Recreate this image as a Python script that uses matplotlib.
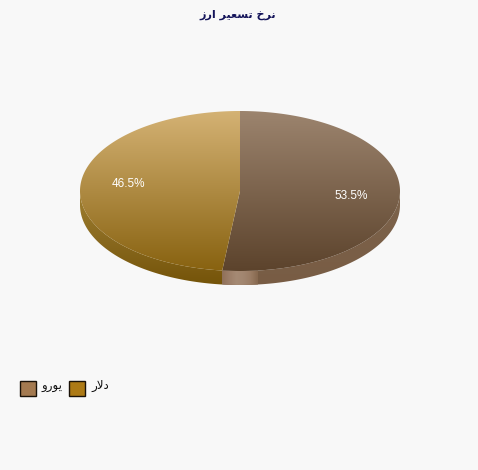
import matplotlib
matplotlib.use("Agg")
import matplotlib.pyplot as plt
import numpy as np
from matplotlib.colors import LinearSegmentedColormap
from matplotlib.patches import Polygon, Rectangle

# dados
valores = [53.5, 46.5]
rotulos = ["53.5%", "46.5%"]
# Arabic text in presentation forms, visual order (matplotlib has no shaping)
titulo = "\uFEAF\uFEAD\uFE8D \uFEAE\uFEF4\uFECC\uFEB4\uFE97 \uFEA5\uFEAE\uFEE7"
nomes_legenda = ["\uFEED\uFEAD\uFEEE\uFEF3", "\uFEAD\uFEFB\uFEA9"]

W, H = 478, 470
cx, cy, rx, ry, prof = 240, 191, 160, 80, 14

fig = plt.figure(figsize=(W / 100, H / 100), dpi=100, facecolor="#f8f8f8")
ax = fig.add_axes([0, 0, 1, 1])
ax.axis("off")


def elipse(t, dy=0):
    return np.column_stack([cx + rx * np.sin(t), cy - ry * np.cos(t) + dy])


def gradiente(cores, box, clip, horizontal=False):
    cmap = LinearSegmentedColormap.from_list("g", cores)
    g = np.linspace(0, 1, 256)
    g = g.reshape(1, -1) if horizontal else g.reshape(-1, 1)
    im = ax.imshow(g, extent=[box[0], box[1], box[3], box[2]], cmap=cmap,
                   aspect="auto", zorder=clip.get_zorder(), interpolation="bilinear")
    im.set_clip_path(clip)


def forma(pontos, z):
    p = Polygon(pontos, closed=True, fc="none", ec="none", zorder=z)
    ax.add_patch(p)
    return p


# angulo do corte, medido na tela a partir das 12 horas
fim = np.radians(valores[0] / sum(valores) * 360)
t_corte = np.pi + np.arctan(np.tan(fim - np.pi) * ry / rx)

# lateral
t_ouro = np.linspace(t_corte, 1.5 * np.pi, 100)
lado_ouro = forma(np.vstack([elipse(t_ouro), elipse(t_ouro, prof)[::-1]]), 2)
gradiente(["#a08030", "#8a6a20", "#745308"], (80, 224, 190, 286), lado_ouro)

t_marrom = np.linspace(0.5 * np.pi, t_corte, 100)
lado_marrom = forma(np.vstack([elipse(t_marrom), elipse(t_marrom, prof)[::-1]]), 2)
gradiente(["#7d644c", "#785c44"], (222, 400, 190, 286), lado_marrom)

# faixa clara do corte
xc = elipse(np.array([t_corte]))[0, 0]
t_faixa = np.linspace(np.pi - np.arcsin(18 / rx), t_corte, 30)
faixa = forma(np.vstack([elipse(t_faixa), elipse(t_faixa, prof)[::-1]]), 3)
gradiente(["#8f7058", "#9c7e68", "#a58a74", "#a28670", "#9a7c64", "#86684e"],
          (xc, 258, 268, 286), faixa, horizontal=True)

# topo das fatias
t1 = np.linspace(0, t_corte, 200)
marrom = forma(np.vstack([[cx, cy], elipse(t1)]), 4)
gradiente(["#9c846e", "#5c432c"], (cx - rx, cx + rx, cy - ry, cy + ry), marrom)

t2 = np.linspace(t_corte, 2 * np.pi, 200)
ouro = forma(np.vstack([[cx, cy], elipse(t2)]), 4)
gradiente(["#d4b274", "#886210"], (cx - rx, cx + rx, cy - ry, cy + ry), ouro)

ax.set_xlim(0, W)
ax.set_ylim(H, 0)

# textos
ax.text(238, 15, titulo, ha="center", va="center", fontsize=8, fontweight="bold",
        color="#14145a", family="DejaVu Sans", zorder=6)
ax.text(351, 196, rotulos[0], ha="center", va="center", fontsize=8.5, color="white",
        family="Liberation Sans", zorder=6)
ax.text(128, 184, rotulos[1], ha="center", va="center", fontsize=8.5, color="white",
        family="Liberation Sans", zorder=6)

# legenda
cores_leg = ["#a47a50", "#ad7a15"]
x_leg = [20, 69]
for x, cor, nome in zip(x_leg, cores_leg, nomes_legenda):
    ax.add_patch(Rectangle((x + 0.5, 380.5), 15.5, 15, fc=cor, ec="#1a1208", lw=1, zorder=5))
    ax.text(x + 22, 386, nome, ha="left", va="center", fontsize=8.5, color="#111111",
            family="DejaVu Sans", zorder=6)

fig.savefig("out.png", dpi=100, facecolor=fig.get_facecolor())
